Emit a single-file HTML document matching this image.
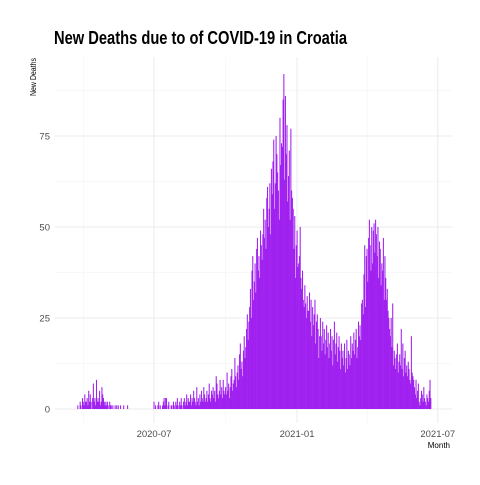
<!DOCTYPE html>
<html><head><meta charset="utf-8"><style>
body{margin:0;background:#fff}
svg text{font-family:"Liberation Sans",sans-serif}
</style></head><body>
<svg id="c" width="480" height="480">
<text x="54" y="44" font-size="18" font-weight="bold" fill="#000" textLength="293" lengthAdjust="spacingAndGlyphs">New Deaths due to of COVID-19 in Croatia</text>
<text transform="translate(36,96) rotate(-90)" font-size="8" fill="#000" textLength="38" lengthAdjust="spacingAndGlyphs">New Deaths</text>
<text x="450" y="448" font-size="8" fill="#000" text-anchor="end">Month</text>
<g id="grid"></g><g id="bars"></g><g id="ticks"></g>
</svg>
<script>
const yTicks=[0,25,50,75];
const xTickLabels=["2020-07","2021-01","2021-07"];
const xTickDays=[98,282,463];
const xMinorDays=[7,190,372];
const startDate="2020-03-25";
const deaths=[
1,0,0,2,1,0,3,2,1,4,2,2,3,1,5,2,4,2,0,3,7,2,3,1,8,2,3,2,5,1,2,6,4,3,2,1,2,
1,2,1,0,2,1,1,0,1,0,0,1,0,1,0,1,0,0,1,0,0,0,1,0,0,0,0,1,0,0,0,
0,0,0,0,0,0,0,0,0,0,0,0,0,0,0,0,0,0,0,0,0,0,0,0,0,0,0,0,0,0,
2,0,1,0,0,1,2,0,1,0,0,1,2,3,1,3,3,0,1,2,0,0,1,1,0,2,1,0,2,1,3,
1,0,2,1,3,1,0,2,3,1,2,4,1,3,2,2,4,1,3,2,5,3,2,1,6,2,3,1,4,2,5,
3,2,6,4,2,3,5,2,4,7,3,2,5,4,6,3,5,2,9,7,4,3,5,8,4,6,3,8,5,4,
6,4,10,5,7,3,6,9,11,5,7,8,14,9,6,10,12,8,15,18,11,13,9,16,20,14,17,22,26,19,24,
28,33,25,38,42,30,35,40,32,44,47,38,42,36,49,45,41,48,55,47,52,44,58,61,50,55,62,48,66,59,
68,74,55,62,75,70,65,60,52,80,67,73,72,85,92,63,86,70,78,57,64,71,52,77,60,58,55,44,53,36,45,
49,39,40,42,50,36,33,38,30,28,34,29,25,31,27,27,32,24,30,20,28,23,26,30,18,24,26,22,14,20,25,
20,16,24,18,22,15,19,23,17,21,14,18,22,16,20,12,19,24,15,18,21,13,17,20,16,11,18,14,
16,12,18,10,14,19,11,16,15,12,20,14,18,16,21,15,19,22,14,17,24,20,23,19,29,30,26,37,45,28,42,
44,35,47,52,45,38,50,40,49,51,43,52,48,42,50,36,46,44,34,40,38,47,30,42,36,30,33,27,25,22,
20,25,17,29,12,16,14,11,15,18,10,13,15,12,22,11,18,9,14,16,10,12,9,13,11,8,7,20,10,9,8,
6,4,8,3,5,7,2,1,3,5,4,2,6,3,2,1,4,3,2,5,8,3
];
const NS="http://www.w3.org/2000/svg";
const dayPx=0.7775;
const x=d=>154+(d-98)*dayPx;
const y=v=>409-v*3.64;
const grid=document.getElementById('grid'),bars=document.getElementById('bars'),ticks=document.getElementById('ticks');
function line(x1,y1,x2,y2,w,c){const l=document.createElementNS(NS,'line');l.setAttribute('x1',x1);l.setAttribute('y1',y1);l.setAttribute('x2',x2);l.setAttribute('y2',y2);l.setAttribute('stroke',c);l.setAttribute('stroke-width',w);grid.appendChild(l);return l;}
for(let i=0;i<yTicks.length;i++){
 const g=line(55,y(yTicks[i]),452,y(yTicks[i]),1,'#ebebeb');
 
 
 const m=line(55,y(yTicks[i]+12.5),452,y(yTicks[i]+12.5),0.5,'#f0f0f0');
 
 
 const t=document.createElementNS(NS,'text');t.setAttribute('x',50);t.setAttribute('y',y(yTicks[i])+3.5);t.setAttribute('font-size','9.5');t.setAttribute('fill','#4d4d4d');t.setAttribute('text-anchor','end');t.textContent=yTicks[i];
 
 
 ticks.appendChild(t);
}
for(let i=0;i<xMinorDays.length;i++){
 const m=line(x(xMinorDays[i]),57,x(xMinorDays[i]),423,0.5,'#f0f0f0');
 
 
}
for(let i=0;i<xTickDays.length;i++){
 const g=line(x(xTickDays[i]),57,x(xTickDays[i]),423,1,'#ebebeb');
 
 
 const t=document.createElementNS(NS,'text');t.setAttribute('x',x(xTickDays[i]));t.setAttribute('y',437);t.setAttribute('font-size','9.5');t.setAttribute('fill','#4d4d4d');t.setAttribute('text-anchor','middle');t.textContent=xTickLabels[i];
 
 
 ticks.appendChild(t);
}
for(let d=0;d<deaths.length;d++){
 if(deaths[d]<=0)continue;
 const r=document.createElementNS(NS,'rect');
 r.setAttribute('x',x(d)-0.5);r.setAttribute('width',1.05);
 r.setAttribute('y',y(deaths[d]));r.setAttribute('height',409-y(deaths[d]));
 r.setAttribute('fill','#a020f0');
 
 
 bars.appendChild(r);
}
</script>
</body></html>
